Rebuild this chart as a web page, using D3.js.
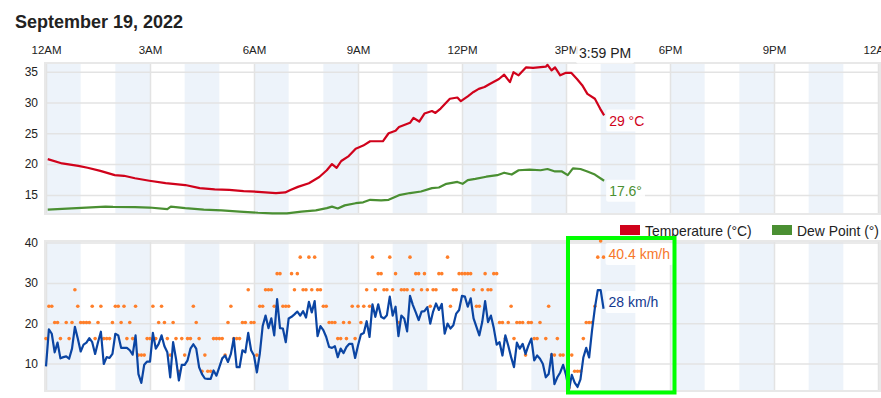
<!DOCTYPE html>
<html>
<head>
<meta charset="utf-8">
<script src="https://cdn.jsdelivr.net/npm/d3@7"></script>
<style>
  body { margin: 0; background: #fff; }
  svg { display: block; font-family: 'Liberation Sans', Arial, Helvetica, sans-serif; }
</style>
</head>
<body>
<script>
// axis ticks (minutes after midnight)
const hourTicks = [0, 180, 360, 540, 720, 900, 1080, 1260, 1440]
const hourLabels = ['12AM', '3AM', '6AM', '9AM', '12PM', '3PM', '6PM', '9PM', '12AM']
const tempTicks = [15, 20, 25, 30, 35]
const windTicks = [10, 20, 30, 40]

// temperature (°C)
const tempMinutes = [3, 28, 56, 72, 94, 119, 135, 154, 179, 207, 241, 266, 292, 317, 342, 367, 398, 414, 423, 436,
  455, 473, 486, 495, 503, 511, 524, 536, 549, 561, 577, 583, 593, 605, 611, 630, 636, 646, 655, 668,
  674, 683, 699, 712, 718, 730, 740, 749, 759, 768, 784, 793, 803, 809, 818, 831, 843, 865, 868, 875,
  881, 890, 900, 909, 919, 928, 937, 950, 959, 966]
const tempC = [20.8, 20.1, 19.7, 19.4, 18.9, 18.2, 18.1, 17.7, 17.3, 16.9, 16.6, 16.1, 15.9, 15.8, 15.6, 15.5, 15.3, 15.4, 15.8, 16.3,
  16.9, 17.9, 19.0, 20.0, 19.4, 20.5, 21.3, 22.5, 23.0, 23.7, 23.7, 23.7, 25.0, 25.4, 26.0, 26.7, 27.5, 26.9, 28.2, 28.6,
  28.3, 29.0, 30.6, 30.8, 30.2, 31.0, 31.7, 32.2, 32.5, 33.0, 33.8, 34.5, 33.3, 34.9, 34.4, 35.7, 35.6, 35.8, 36.1, 35.2,
  35.7, 34.4, 34.8, 34.8, 33.8, 32.8, 31.4, 30.6, 29.0, 27.9]

// dew point (°)
const dewMinutes = [3, 53, 103, 116, 154, 179, 210, 216, 241, 273, 304, 335, 367, 392, 417, 442, 467, 486, 495, 505,
  517, 536, 549, 561, 580, 593, 611, 630, 649, 668, 680, 693, 712, 721, 730, 743, 762, 781, 793, 806,
  818, 837, 856, 868, 881, 893, 903, 912, 925, 937, 950, 966]
const dewC = [12.6, 12.85, 13.1, 13.05, 13.0, 12.95, 12.7, 13.1, 12.85, 12.6, 12.5, 12.3, 12.1, 12.0, 12.0, 12.3, 12.5, 12.85, 13.1, 12.8,
  13.3, 13.65, 13.8, 14.2, 14.1, 14.2, 14.95, 15.3, 15.55, 16.1, 16.2, 16.8, 17.1, 16.8, 17.4, 17.6, 17.95, 18.2, 18.6, 18.3,
  19.0, 19.1, 19.0, 19.2, 18.8, 18.8, 18.2, 19.3, 19.2, 18.8, 18.3, 17.3]

// wind and gusts (km/h), one reading every 5 minutes from midnight
const sampleStep = 5
const windKmh = [9.3, 18.5, 17.4, 12.8, 15.2, 11.3, 11.6, 11.8, 11.2, 13.7, 19.1, 16.2, 13.0, 14.7, 15.2, 16.3, 15.3, 12.4, 15.3, 17.9,
  9.9, 11.6, 11.4, 12.4, 17.4, 17.0, 13.9, 13.9, 13.9, 13.3, 12.2, 17.0, 7.4, 5.2, 9.7, 10.5, 10.5, 17.6, 13.7, 14.9,
  17.0, 14.3, 12.8, 6.6, 15.3, 11.2, 5.8, 9.7, 9.7, 10.8, 13.7, 14.8, 13.7, 9.1, 7.4, 6.3, 6.2, 6.2, 8.3, 7.0,
  9.1, 11.3, 12.0, 10.4, 12.4, 16.3, 9.1, 9.1, 13.3, 12.8, 17.6, 13.3, 12.0, 7.8, 12.4, 19.3, 21.9, 18.8, 21.2, 17.0,
  26.0, 18.8, 18.7, 15.3, 21.2, 21.6, 22.2, 22.9, 21.9, 23.0, 21.4, 25.3, 22.7, 25.5, 16.8, 19.3, 18.3, 16.6, 14.1, 13.9,
  14.3, 11.6, 13.7, 12.6, 14.1, 14.9, 14.9, 11.4, 14.5, 17.2, 17.6, 20.5, 16.6, 24.7, 21.6, 24.7, 21.6, 21.2, 22.0, 26.6,
  21.9, 24.1, 16.8, 21.9, 21.2, 18.0, 26.8, 24.5, 22.7, 20.8, 22.9, 23.0, 24.0, 19.9, 22.9, 24.9, 23.3, 24.8, 17.4, 19.9,
  18.7, 19.5, 22.4, 23.3, 26.8, 26.6, 24.1, 26.2, 21.2, 19.1, 17.0, 20.3, 25.5, 20.3, 21.9, 18.8, 14.7, 15.3, 12.0, 17.0,
  14.5, 11.6, 9.1, 15.2, 13.7, 14.9, 12.4, 14.5, 16.2, 10.8, 12.0, 11.2, 9.9, 6.6, 7.4, 12.4, 4.9, 6.6, 7.8, 9.7,
  7.2, 3.35, 7.2, 5.3, 4.2, 6.1, 11.5, 13.9, 11.5, 18.2, 23.8, 28.2, 28.2, 23.6]
const gustKmh = [16.2, 24.2, 24.2, 20.2, 20.2, 16.2, null, 20.2, 16.2, 20.2, 28.3, 24.2, 20.2, 20.2, 20.2, 20.2, 24.2, 16.2, 20.2, 24.2,
  16.2, 16.2, 16.2, 20.2, 24.2, 24.2, 20.2, 24.2, 16.2, 20.2, 16.2, 24.2, 12.1, 12.1, 12.1, 16.2, 16.2, 24.2, 16.2, 20.2,
  24.2, 20.2, 16.2, 12.1, 20.2, 16.2, 8.1, 16.2, 12.1, 16.2, 16.2, 24.2, 20.2, 16.2, 8.1, 12.1, 8.1, 8.1, 16.2, 16.2,
  16.2, 16.2, 12.1, 20.2, 24.2, 16.2, 16.2, 16.2, 20.2, 20.2, 28.3, 20.2, 20.2, 12.1, 24.2, 24.2, 28.3, 28.3, 28.3, 24.2,
  32.3, 32.3, 24.2, 24.2, 24.2, 32.3, 28.3, 32.3, 36.4, 28.3, 28.3, 36.4, 28.3, 36.4, 28.3, 28.3, 24.2, 24.2, 20.2, 20.2,
  20.2, 16.2, 16.2, 20.2, 16.2, 20.2, 24.2, 16.2, 24.2, 20.2, 24.2, 28.3, 24.2, 36.4, 28.3, 32.3, 32.3, 28.3, 28.3, 36.4,
  28.3, 32.3, 20.2, 28.3, 28.3, 28.3, 36.4, 28.3, 32.3, 32.3, 28.3, 32.3, 28.3, 24.2, 28.3, 28.3, 32.3, 32.3, null, 36.4,
  24.2, 28.3, 28.3, 32.3, 32.3, 32.3, 32.3, 32.3, 28.3, 24.2, 24.2, 28.3, 32.3, 28.3, 28.3, 32.3, 32.3, 20.2, 20.2, 16.2,
  20.2, 24.2, 16.2, 20.2, 20.2, 20.2, 12.1, 20.2, 20.2, 16.2, 16.2, 20.2, null, 16.2, 24.2, 12.1, 12.1, 16.2, 12.1, 12.1,
  null, 4.0, 12.1, 8.1, 8.1, 8.1, 16.2, 20.2, 20.2, 20.2, 24.2, 36.4, 40.4, 36.4]

// current readings shown at the end of each series
const currentTime = '3:59 PM'
const currentTemp = 29
const currentDew = 17.6
const currentGust = 40.4
const currentWind = 28

const W = 881
const H = 398
let svg = d3.select('body').append('svg').attr('width', W).attr('height', H)

let left = 45
let right = 880
let top1 = 63, bot1 = 214
let top2 = 241, bot2 = 391

let x = d3.scaleLinear().domain([0, 1440]).range([46, 878])
let yT = d3.scaleLinear().domain([11.9, 36.4]).range([bot1, top1])
let yW = d3.scaleLinear().domain([3.2, 40.4]).range([bot2, top2])

// title
svg.append('text')
  .attr('x', 15).attr('y', 27.5)
  .attr('font-size', 18).attr('font-weight', 'bold').attr('fill', '#222')
  .text('September 19, 2022')

// hour labels on top
let xAxis = svg.append('g')
  .attr('transform', 'translate(0,54)')
  .call(d3.axisTop(x).tickValues(hourTicks).tickFormat((d, i) => hourLabels[i]).tickSize(0).tickPadding(0))
xAxis.select('.domain').remove()
xAxis.selectAll('text').attr('font-size', 11.5).attr('fill', '#222').attr('font-family', null)

function panel (top, bot, y, ticks) {
  let g = svg.append('g')
  // alternating hour bands
  g.selectAll('rect.band')
    .data(d3.range(0, 24, 2))
    .enter().append('rect')
    .attr('x', d => x(d * 60))
    .attr('width', d => Math.min(x(d * 60 + 60), right) - x(d * 60))
    .attr('y', top).attr('height', bot - top)
    .attr('fill', '#edf3fa')

  // horizontal grid
  let gy = g.append('g')
    .attr('transform', 'translate(' + left + ',0)')
    .call(d3.axisLeft(y).tickValues(ticks).tickSize(-(right - left)).tickFormat(''))
  gy.select('.domain').remove()
  gy.selectAll('line').attr('stroke', '#e3e3e3').attr('stroke-width', 1.5)

  // vertical grid every 3 hours
  let gx = g.append('g')
    .attr('transform', 'translate(0,' + bot + ')')
    .call(d3.axisBottom(x).tickValues(hourTicks).tickSize(-(bot - top)).tickFormat(''))
  gx.select('.domain').remove()
  gx.selectAll('line').attr('stroke', '#e3e3e3').attr('stroke-width', 1.5)

  // frame
  g.append('rect')
    .attr('x', left).attr('y', top)
    .attr('width', right - left).attr('height', bot - top)
    .attr('fill', 'none').attr('stroke', '#e8e8e8').attr('stroke-width', 2)

  // tick labels
  let ly = g.append('g')
    .attr('transform', 'translate(' + left + ',0)')
    .call(d3.axisLeft(y).tickValues(ticks).tickSize(0).tickPadding(7))
  ly.select('.domain').remove()
  ly.selectAll('text').attr('font-size', 12).attr('fill', '#222').attr('font-family', null)
}

panel(top1, bot1, yT, tempTicks)
panel(top2, bot2, yW, windTicks)

// temperature and dew point lines
let tempLine = d3.line().x(d => x(d[0])).y(d => yT(d[1]))
svg.append('path')
  .datum(d3.zip(dewMinutes, dewC))
  .attr('fill', 'none').attr('stroke', '#4a8f32').attr('stroke-width', 2.2)
  .attr('stroke-linejoin', 'round').attr('d', tempLine)
svg.append('path')
  .datum(d3.zip(tempMinutes, tempC))
  .attr('fill', 'none').attr('stroke', '#d0021b').attr('stroke-width', 2.2)
  .attr('stroke-linejoin', 'round').attr('d', tempLine)

// gust dots and wind line
let gusts = gustKmh.map((v, i) => [i * sampleStep, v]).filter(d => d[1] != null)
svg.append('g').selectAll('circle')
  .data(gusts)
  .enter().append('circle')
  .attr('cx', d => x(d[0])).attr('cy', d => yW(d[1]))
  .attr('r', 1.8).attr('fill', '#ff7f2a')

let windLine = d3.line().x((d, i) => x(i * sampleStep)).y(d => yW(d))
svg.append('path')
  .datum(windKmh)
  .attr('fill', 'none').attr('stroke', '#0b45a3').attr('stroke-width', 2.2)
  .attr('stroke-linejoin', 'round').attr('d', windLine)

// value labels with a light backing box
function valueLabel (px, py, txt, color, size) {
  let g = svg.append('g')
  let bg = g.append('rect').attr('fill', '#fff').attr('fill-opacity', 0.85).attr('rx', 2)
  let t = g.append('text').attr('x', px).attr('y', py)
    .attr('font-size', size).attr('fill', color).text(txt)
  let b = t.node().getBBox()
  bg.attr('x', b.x - 3).attr('y', b.y - 3).attr('width', b.width + 6).attr('height', b.height + 6)
}

let lastT = tempMinutes[tempMinutes.length - 1]
let lastW = (windKmh.length - 1) * sampleStep
valueLabel(x(lastT) + 5, yT(currentTemp) + 17, currentTemp + ' °C', '#d0021b', 14)
valueLabel(x(lastT) + 5, yT(currentDew) + 17, currentDew + '°', '#4a8f32', 14)
valueLabel(x(lastW) + 5, yW(currentGust) + 18, currentGust + ' km/h', '#f7772a', 14)
valueLabel(x(lastW) + 5, yW(currentWind) + 16, currentWind + ' km/h', '#12388f', 14)

// crosshair time label
valueLabel(579, 57.5, currentTime, '#222', 14)

// legend
let legend = [['Temperature (°C)', '#d0021b', 620], ['Dew Point (°)', '#4a8f32', 772]]
legend.forEach(l => {
  svg.append('rect').attr('x', l[2]).attr('y', 225).attr('width', 20).attr('height', 10).attr('fill', l[1])
  svg.append('text').attr('x', l[2] + 25).attr('y', 235.5)
    .attr('font-size', 13.9).attr('fill', '#222').text(l[0])
})

// highlight box
svg.append('rect')
  .attr('x', 568).attr('y', 238).attr('width', 106.5).attr('height', 154.5)
  .attr('fill', 'none').attr('stroke', '#00ff00').attr('stroke-width', 4)
</script>
</body>
</html>
